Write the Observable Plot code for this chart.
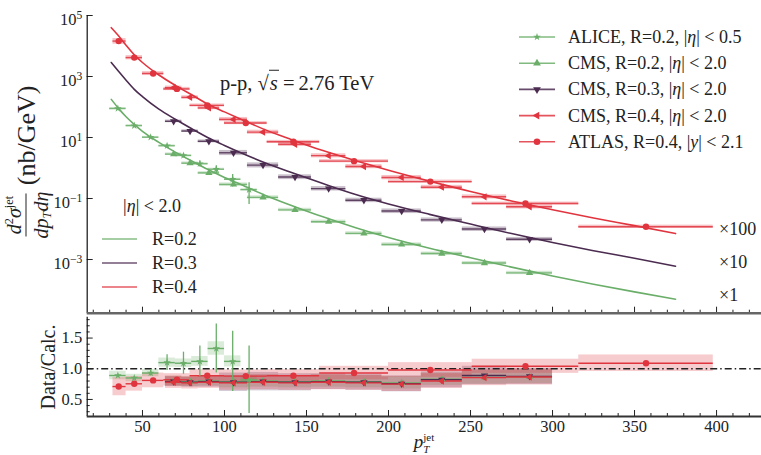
<!DOCTYPE html>
<html>
<head>
<meta charset="utf-8">
<script src="https://cdn.jsdelivr.net/npm/d3@7"></script>
<script src="https://cdn.jsdelivr.net/npm/@observablehq/plot@0.6"></script>
<style>
  body { margin: 0; background: #fff; }
  #fig { position: relative; width: 761px; height: 455px; overflow: hidden;
         font-family: "Liberation Serif", "DejaVu Serif", serif; color: #222; }
  #fig svg { position: absolute; left: 0; overflow: visible; }
  .lbl { position: absolute; white-space: nowrap; line-height: 1; }
  .lbl sup, .lbl sub { font-size: 0.62em; line-height: 0; }
  .lbl sup { vertical-align: 0.6em; }
  .lbl sub { vertical-align: -0.3em; }
</style>
</head>
<body>
<div id="fig"></div>
<script>
// ---------- theory calculation (drawn scaled: R=0.4 x100, R=0.3 x10, R=0.2 x1) ----------
const calcPt = [31, 35, 40, 45, 50, 60, 70, 80, 90, 100, 110, 125, 140, 160, 180, 200, 225, 250, 275, 300, 325, 350, 375];
const calcR02 = [178, 95.5, 47.9, 26.9, 15.8, 6.92, 3.31, 1.70, 0.891, 0.490, 0.288, 0.126, 0.0617, 0.0251, 0.0110, 0.00525, 0.00234, 0.00115, 0.000562, 0.000288, 0.000155, 0.0000871, 0.0000501];
const calcR03x10 = [2880, 1580, 759, 380, 219, 85.1, 39.8, 19.5, 9.77, 5.50, 3.16, 1.45, 0.741, 0.309, 0.135, 0.0661, 0.0302, 0.0145, 0.00708, 0.00363, 0.00195, 0.00110, 0.000603];
const calcR04x100 = [39800, 22900, 10500, 5130, 2880, 1120, 513, 251, 123, 69.2, 39.8, 17.8, 8.91, 3.72, 1.74, 0.851, 0.372, 0.170, 0.0832, 0.0427, 0.0229, 0.0129, 0.00708];

// ---------- ALICE, R=0.2, |eta|<0.5 ----------
const aliceLo = [30, 40, 50, 60, 70, 80, 90, 100, 110];
const aliceHi = [40, 50, 60, 70, 80, 90, 100, 110, 120];
const alicePt = [35, 45, 55, 65, 75, 85, 95, 105, 115];
const aliceXsec = [89.1, 24.5, 10.2, 5.37, 2.57, 1.38, 0.912, 0.427, 0.195];
const aliceRatio = [0.89, 0.85, 0.93, 1.10, 1.09, 1.12, 1.33, 1.12, 0.82];
const aliceStat = [0.02, 0.02, 0.05, 0.13, 0.18, 0.25, 0.40, 0.49, 0.55];
const aliceSys = [0.07, 0.06, 0.06, 0.075, 0.07, 0.08, 0.11, 0.09, 0.06];

// ---------- CMS, |eta|<2.0 ----------
const cmsEdges = [64, 74, 84, 97, 114, 133, 153, 174, 196, 220, 245, 272, 300];
const cmsPt = [69, 79, 90.5, 105.5, 123.5, 143, 163.5, 185, 208, 232.5, 258.5, 286];
const cmsR02Xsec = [2.85, 1.44, 0.692, 0.289, 0.109, 0.0425, 0.0174, 0.00721, 0.00312, 0.00157, 0.000767, 0.000365];
const cmsR03Xsec = [34.0, 16.3, 7.52, 3.16, 1.24, 0.507, 0.211, 0.0879, 0.0388, 0.0199, 0.0100, 0.00461];
const cmsR04Xsec = [430, 207, 93.3, 39.3, 15.0, 6.01, 2.54, 1.12, 0.490, 0.235, 0.114, 0.0536];
const cmsR02Ratio = [0.80, 0.79, 0.80, 0.79, 0.80, 0.79, 0.80, 0.79, 0.77, 0.83, 0.86, 0.87];
const cmsR03Ratio = [0.79, 0.78, 0.79, 0.78, 0.79, 0.78, 0.79, 0.78, 0.755, 0.82, 0.89, 0.875];
const cmsR04Ratio = [0.78, 0.77, 0.78, 0.77, 0.78, 0.77, 0.78, 0.77, 0.75, 0.80, 0.855, 0.865];
const cmsR02Sys = [0.08, 0.08, 0.08, 0.10, 0.10, 0.10, 0.10, 0.10, 0.10, 0.10, 0.11, 0.11];
const cmsR03Sys = [0.08, 0.08, 0.09, 0.15, 0.15, 0.14, 0.13, 0.13, 0.13, 0.13, 0.15, 0.13];
const cmsR04Sys = [0.10, 0.10, 0.10, 0.12, 0.12, 0.12, 0.12, 0.12, 0.12, 0.12, 0.13, 0.13];

// ---------- ATLAS, R=0.4, |y|<2.1 ----------
const atlasEdges = [32, 40, 50, 63, 79, 100, 126, 158, 200, 251, 316, 398];
const atlasPt = [35.5, 45, 56.5, 71, 89.5, 113, 142, 179, 225.5, 283.5, 357];
const atlasXsec = [14500, 4170, 1260, 392, 113, 29.8, 7.23, 1.68, 0.358, 0.0689, 0.0119];
const atlasRatio = [0.71, 0.755, 0.81, 0.82, 0.885, 0.88, 0.885, 0.93, 0.98, 1.04, 1.09];
const atlasSys = [0.15, 0.12, 0.12, 0.10, 0.10, 0.10, 0.10, 0.11, 0.12, 0.115, 0.135];

// ---------- axis ticks ----------
const xDomain = [16.3, 427.4];
const xMajor = [50, 100, 150, 200, 250, 300, 350, 400];
const xMinor = [20, 30, 40, 60, 70, 80, 90, 110, 120, 130, 140, 160, 170, 180, 190, 210, 220, 230, 240, 260, 270, 280, 290, 310, 320, 330, 340, 360, 370, 380, 390, 410, 420];
const yTopTicks = [1e-3, 1e-1, 1e1, 1e3, 1e5];
const yBotMajor = [0.5, 1.0, 1.5];
const yBotMinor = [0.3, 0.4, 0.6, 0.7, 0.8, 0.9, 1.1, 1.2, 1.3, 1.4, 1.6, 1.7, 1.8];

const green = "#6aae69", purple = "#4b2c50", red = "#e0353f";

// custom triangle markers (down- and left-pointing)
const sqrt3 = Math.sqrt(3);
const triDown = { draw(ctx, size) { const y = -Math.sqrt(size / (sqrt3 * 3));
  ctx.moveTo(0, -2 * y); ctx.lineTo(-sqrt3 * y, y); ctx.lineTo(sqrt3 * y, y); ctx.closePath(); } };
const triLeft = { draw(ctx, size) { const y = -Math.sqrt(size / (sqrt3 * 3));
  ctx.moveTo(2 * y, 0); ctx.lineTo(-y, -sqrt3 * y); ctx.lineTo(-y, sqrt3 * y); ctx.closePath(); } };

// ---------- tables ----------
function rows(pt, lo, hi, xsec, ratio, sys, stat) {
  return pt.map((p, i) => ({ pt: p, lo: lo[i], hi: hi[i], xsec: xsec[i], ratio: ratio[i], sys: sys[i], stat: stat ? stat[i] : 0 }));
}
const cmsLo = cmsEdges.slice(0, -1), cmsHi = cmsEdges.slice(1);
const atlasLo = atlasEdges.slice(0, -1), atlasHi = atlasEdges.slice(1);

const series = [
  { rows: rows(alicePt, aliceLo, aliceHi, aliceXsec, aliceRatio, aliceSys, aliceStat), color: green, symbol: "star", r: 2.4 },
  { rows: rows(cmsPt, cmsLo, cmsHi, cmsR02Xsec, cmsR02Ratio, cmsR02Sys), color: green, symbol: "triangle", r: 2.7 },
  { rows: rows(cmsPt, cmsLo, cmsHi, cmsR03Xsec, cmsR03Ratio, cmsR03Sys), color: purple, symbol: triDown, r: 2.7 },
  { rows: rows(cmsPt, cmsLo, cmsHi, cmsR04Xsec, cmsR04Ratio, cmsR04Sys), color: red, symbol: triLeft, r: 2.7 },
  { rows: rows(atlasPt, atlasLo, atlasHi, atlasXsec, atlasRatio, atlasSys), color: red, symbol: "circle", r: 3.2 }
];

const calcRows = [
  ["R=0.2", green, calcR02], ["R=0.3", purple, calcR03x10], ["R=0.4", red, calcR04x100]
].flatMap(([key, color, vals]) => calcPt.map((pt, i) => ({ key, color, pt, v: vals[i] })));

const fig = document.getElementById("fig");
const W = 761;
const font = { fontFamily: "Liberation Serif, serif", fontSize: "16.5px", color: "#222", background: "transparent" };

// ---------- upper panel: spectra ----------
const yTopDomain = [Math.pow(10, -4.76), 1e5];
const upperPanel = Plot.plot({
  width: W, height: 316,
  marginLeft: 86.7, marginRight: 0, marginTop: 15, marginBottom: 3.3,
  style: font,
  x: { domain: xDomain },
  y: { type: "log", domain: yTopDomain },
  marks: [
    Plot.line(calcRows, { x: "pt", y: "v", z: "key", stroke: "color", strokeWidth: 1.6, curve: "monotone-x" }),
    ...series.map(s => Plot.rect(s.rows, { x1: "lo", x2: "hi",
      y1: d => d.xsec * (1 - d.sys / d.ratio), y2: d => d.xsec * (1 + d.sys / d.ratio),
      fill: s.color, fillOpacity: 0.3 })),
    ...series.map(s => Plot.ruleY(s.rows, { y: "xsec", x1: "lo", x2: "hi", stroke: s.color, strokeWidth: 1.4, strokeOpacity: 0.85 })),
    ...series.map(s => Plot.ruleX(s.rows.filter(d => d.stat > 0), { x: "pt",
      y1: d => d.xsec * Math.max(0.05, 1 - d.stat / d.ratio), y2: d => d.xsec * (1 + d.stat / d.ratio),
      stroke: s.color, strokeWidth: 1.3 })),
    ...series.map(s => Plot.dot(s.rows, { x: "pt", y: "xsec", symbol: s.symbol, r: s.r, fill: s.color, stroke: null })),
    Plot.axisY({ ticks: yTopTicks, tickSize: 6, dx: 6, text: null, label: null }),
    Plot.axisY({ ticks: yTopTicks, tickSize: 0, tickPadding: 5, label: null,
      tickFormat: d => "10^" + String(Math.round(Math.log10(d))).replace("-", "\u2212") }),
    Plot.axisX({ ticks: xMajor, tickSize: 6, dy: -6, text: null, label: null }),
    Plot.axisX({ ticks: xMinor, tickSize: 3, dy: -3, text: null, label: null }),
    Plot.ruleX([xDomain[0]], { stroke: "#111", strokeWidth: 1.2 }),
    Plot.ruleY([yTopDomain[0]], { stroke: "#666", strokeWidth: 2.4 })
  ]
});
upperPanel.style.top = "0px";
fig.appendChild(upperPanel);

// decade labels written as 10 with a raised exponent
d3.select(upperPanel).selectAll('g[aria-label="y-axis tick label"] text').each(function () {
  const t = d3.select(this);
  const [base, exp] = t.text().split("^");
  t.text(null);
  t.append("tspan").attr("dy", "0.25em").text(base);
  t.append("tspan").attr("dy", "-0.55em").attr("font-size", "0.7em").text(exp);
});

// ---------- lower panel: data / calculation ----------
const yBotDomain = [0.222, 1.84];
const lowerPanel = Plot.plot({
  width: W, height: 139,
  marginLeft: 86.7, marginRight: 0, marginTop: 0.7, marginBottom: 39,
  style: font,
  x: { domain: xDomain },
  y: { domain: yBotDomain },
  marks: [
    ...series.map(s => Plot.rect(s.rows, { x1: "lo", x2: "hi",
      y1: d => d.ratio - d.sys, y2: d => d.ratio + d.sys, fill: s.color, fillOpacity: 0.25 })),
    Plot.ruleY([1], { stroke: "#222", strokeWidth: 1.3, strokeDasharray: "7,3,1.5,3" }),
    ...series.map(s => Plot.ruleY(s.rows, { y: "ratio", x1: "lo", x2: "hi", stroke: s.color, strokeWidth: 1.4 })),
    ...series.map(s => Plot.ruleX(s.rows.filter(d => d.stat > 0), { x: "pt",
      y1: d => d.ratio - d.stat, y2: d => d.ratio + d.stat, stroke: s.color, strokeWidth: 1.3 })),
    ...series.map(s => Plot.dot(s.rows, { x: "pt", y: "ratio", symbol: s.symbol, r: s.r, fill: s.color, stroke: null })),
    Plot.axisY({ ticks: yBotMajor, tickSize: 6, dx: 6, text: null, label: null }),
    Plot.axisY({ ticks: yBotMinor, tickSize: 3, dx: 3, text: null, label: null }),
    Plot.axisY({ ticks: yBotMajor, tickSize: 0, tickPadding: 5, label: null, tickFormat: d3.format(".1f") }),
    Plot.axisX({ ticks: xMajor, tickSize: 6, dy: -6, text: null, label: null }),
    Plot.axisX({ ticks: xMinor, tickSize: 3, dy: -3, text: null, label: null }),
    Plot.axisX({ ticks: xMajor, tickSize: 0, tickPadding: 4, label: null, tickFormat: d => String(d) }),
    Plot.ruleX([xDomain[0]], { stroke: "#111", strokeWidth: 1.2 }),
    Plot.ruleY([yBotDomain[0]], { stroke: "#333", strokeWidth: 1.8 })
  ]
});
lowerPanel.style.top = "316px";
fig.appendChild(lowerPanel);

// ---------- legends and labels ----------
const ov = d3.select(fig).append("svg")
  .attr("width", W).attr("height", 455).style("top", "0px").style("pointer-events", "none");

function label(html, x, y, size, transform) {
  const d = document.createElement("div");
  d.className = "lbl";
  d.innerHTML = html;
  d.style.left = x + "px";
  d.style.top = y + "px";
  d.style.fontSize = size + "px";
  d.style.transform = transform || "translate(0,-50%)";
  fig.appendChild(d);
}

const legendEntries = [
  { text: "ALICE, R=0.2, |<i>η</i>| &lt; 0.5", color: green, sym: d3.symbolStar, r: 2.4 },
  { text: "CMS, R=0.2, |<i>η</i>| &lt; 2.0", color: green, sym: d3.symbolTriangle, r: 2.9 },
  { text: "CMS, R=0.3, |<i>η</i>| &lt; 2.0", color: purple, sym: triDown, r: 2.9 },
  { text: "CMS, R=0.4, |<i>η</i>| &lt; 2.0", color: red, sym: triLeft, r: 2.9 },
  { text: "ATLAS, R=0.4, |<i>y</i>| &lt; 2.1", color: red, sym: d3.symbolCircle, r: 3.3 }
];
legendEntries.forEach((e, i) => {
  const y = 37 + i * 26.2;
  ov.append("line").attr("x1", 519).attr("x2", 555).attr("y1", y).attr("y2", y)
    .attr("stroke", e.color).attr("stroke-width", 1.6).attr("stroke-opacity", 0.85);
  ov.append("path").attr("d", d3.symbol(e.sym, e.r * e.r * Math.PI)())
    .attr("transform", `translate(537,${y})`).attr("fill", e.color);
  label(e.text, 568, y, 18);
});

const radiusEntries = [["R=0.2", green], ["R=0.3", purple], ["R=0.4", red]];
label("|<i>η</i>| &lt; 2.0", 152, 206, 18, "translate(-50%,-50%)");
radiusEntries.forEach(([name, color], i) => {
  const y = 239 + i * 24;
  ov.append("line").attr("x1", 102).attr("x2", 137).attr("y1", y).attr("y2", y)
    .attr("stroke", color).attr("stroke-width", 1.6).attr("stroke-opacity", 0.8);
  label(name, 152, y, 18);
});

label("×100", 719, 229, 18);
label("×10", 719, 262, 18);
label("×1", 719, 295, 18);

label('p-p, √<span style="border-top:1.2px solid #222;font-style:italic;padding:1px 1px 0">s</span>&#8201;=&#8201;2.76 TeV', 220, 83, 20.5);

label('<span style="display:inline-flex;flex-direction:column;align-items:center;vertical-align:middle;font-size:20px">' +
      '<span style="border-bottom:1.4px solid #222;padding:0 2px 2px"><i>d</i><sup>2</sup><i>σ</i><sup>jet</sup></span>' +
      '<span style="padding-top:4px"><i>dp</i><sub><i>T</i></sub><i>dη</i></span></span>' +
      '<span style="font-size:26px;vertical-align:middle"> (nb/GeV)</span>',
      27, 162, 20, "translate(-50%,-50%) rotate(-90deg)");

label("Data/Calc.", 48, 367, 20, "translate(-50%,-50%) rotate(-90deg)");

label('<i>p</i><span style="display:inline-flex;flex-direction:column;vertical-align:middle;font-size:11px;line-height:1.05">' +
      '<span>jet</span><span style="font-style:italic">T</span></span>', 424, 444, 19, "translate(-50%,-50%)");
</script>
</body>
</html>
